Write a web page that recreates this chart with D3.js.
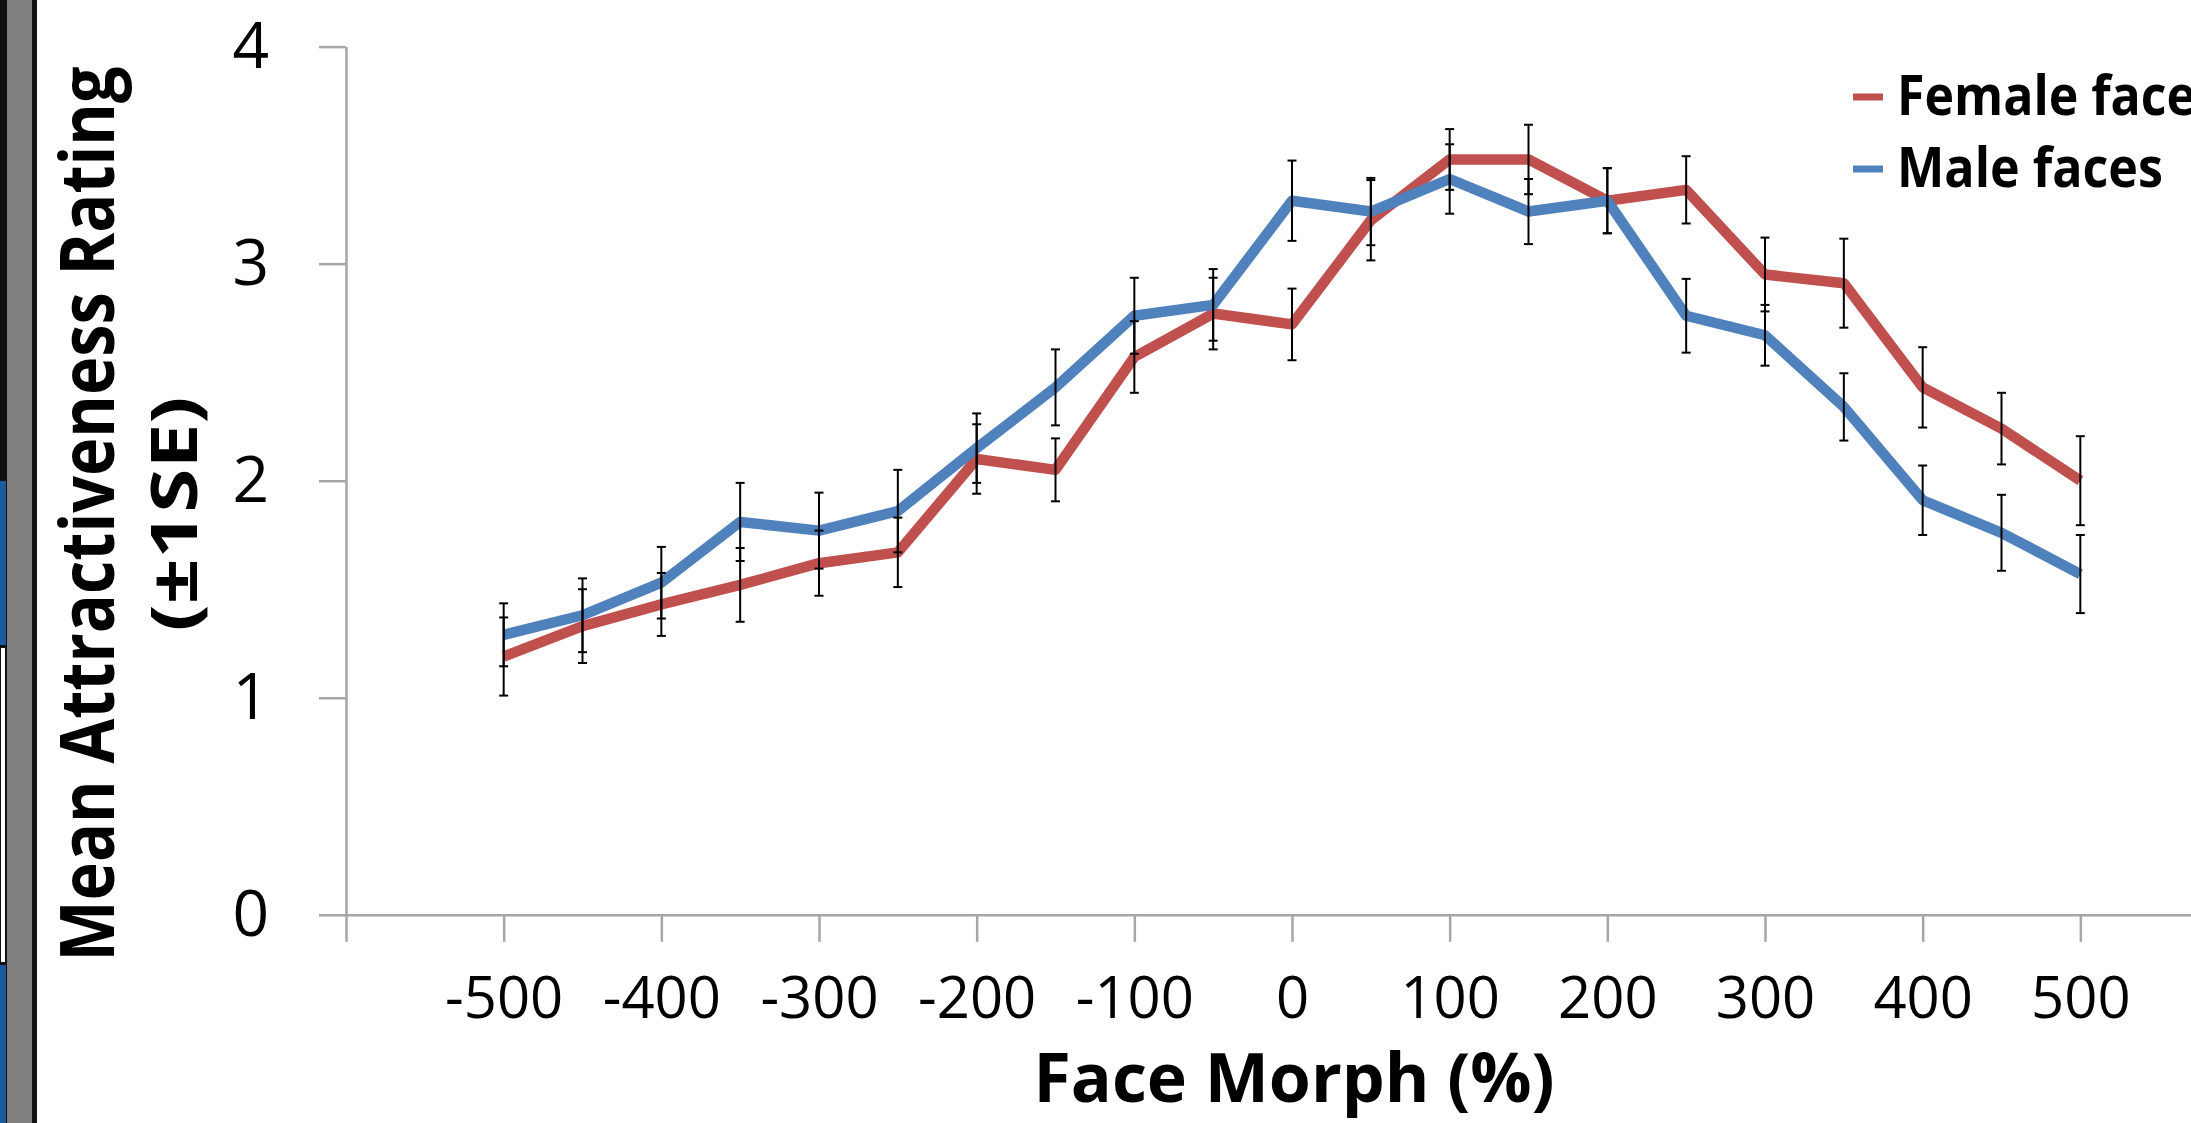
<!DOCTYPE html>
<html>
<head>
<meta charset="utf-8">
<script src="https://cdn.jsdelivr.net/npm/d3@7"></script>
<style>
  body { margin: 0; background: #fff; }
  svg { display: block; }
</style>
</head>
<body>
<div id="main"></div>
<script>
// face morph levels (%)
const morph = [-500, -450, -400, -350, -300, -250, -200, -150, -100, -50, 0,
               50, 100, 150, 200, 250, 300, 350, 400, 450, 500];
const femaleMean = [1.19, 1.33, 1.43, 1.52, 1.62, 1.67, 2.10, 2.05, 2.57, 2.77, 2.72,
                    3.20, 3.48, 3.48, 3.29, 3.34, 2.95, 2.91, 2.43, 2.24, 2.00];
const femaleSE = [0.18, 0.17, 0.145, 0.17, 0.15, 0.16, 0.16, 0.145, 0.165, 0.165, 0.165,
                  0.185, 0.14, 0.16, 0.15, 0.155, 0.17, 0.205, 0.185, 0.165, 0.205];
const maleMean = [1.29, 1.38, 1.53, 1.81, 1.77, 1.86, 2.15, 2.43, 2.76, 2.81, 3.29,
                  3.24, 3.39, 3.24, 3.29, 2.76, 2.67, 2.34, 1.91, 1.76, 1.57];
const maleSE = [0.145, 0.17, 0.165, 0.18, 0.175, 0.19, 0.16, 0.175, 0.175, 0.165, 0.185,
                0.155, 0.16, 0.15, 0.15, 0.17, 0.14, 0.155, 0.16, 0.175, 0.18];
const xTicks = [-600, -500, -400, -300, -200, -100, 0, 100, 200, 300, 400, 500];
const yTicks = [0, 1, 2, 3, 4];
const seriesNames = ["Female faces", "Male faces"];

const ctx = {
    width: 2191,
    height: 1123,
    red: "#c0504d",
    blue: "#4f81bd",
    axisGrey: "#a6a6a6",
    font: "'Open Sans', sans-serif"
};

const series = [
    { name: seriesNames[0], color: ctx.red, labelLength: 324, values: femaleMean.map((m, i) => ({ x: morph[i], y: m, se: femaleSE[i] })) },
    { name: seriesNames[1], color: ctx.blue, labelLength: 266, values: maleMean.map((m, i) => ({ x: morph[i], y: m, se: maleSE[i] })) }
];

let svg = d3.select("#main").append("svg")
    .attr("width", ctx.width)
    .attr("height", ctx.height);

svg.append("rect")
    .attr("width", ctx.width).attr("height", ctx.height)
    .attr("fill", "#fff");

// slide frame strip on the left edge
let frame = svg.append("g");
frame.append("rect").attr("x", 0).attr("y", 0).attr("width", 7).attr("height", ctx.height).attr("fill", "#111");
frame.append("rect").attr("x", 1).attr("y", 648).attr("width", 4).attr("height", 314).attr("fill", "#fff");
frame.append("rect").attr("x", 0).attr("y", 481).attr("width", 6).attr("height", 164).attr("fill", "#1d5c9c");
frame.append("rect").attr("x", 0).attr("y", 965).attr("width", 6).attr("height", 158).attr("fill", "#1d5c9c");
frame.append("rect").attr("x", 7).attr("y", 0).attr("width", 25).attr("height", ctx.height).attr("fill", "#808080");
frame.append("rect").attr("x", 32).attr("y", 0).attr("width", 5).attr("height", ctx.height).attr("fill", "#111");

let x = d3.scaleLinear().domain([-600, 600]).range([346, 2238]);
let y = d3.scaleLinear().domain([0, 4]).range([914.8, 46.6]);

// axes
let xAxis = svg.append("g")
    .attr("transform", "translate(0," + y(0) + ")")
    .call(d3.axisBottom(x).tickValues(xTicks).tickSize(27).tickSizeOuter(0).tickPadding(35)
        .tickFormat(d => d === -600 ? "" : d));
let yAxis = svg.append("g")
    .attr("transform", "translate(" + x(-600) + ",0)")
    .call(d3.axisLeft(y).tickValues(yTicks).tickSize(27).tickSizeOuter(0).tickPadding(50)
        .tickFormat(d3.format("d")));

[xAxis, yAxis].forEach(g => {
    g.select(".domain").attr("stroke", ctx.axisGrey).attr("stroke-width", 2.5);
    g.selectAll(".tick line").attr("stroke", ctx.axisGrey).attr("stroke-width", 2.5);
    g.selectAll(".tick text").attr("fill", "#000").attr("font-family", ctx.font);
});
xAxis.selectAll(".tick text").attr("font-size", 58);
yAxis.selectAll(".tick text").attr("font-size", 64);

// lines
let line = d3.line().x(d => x(d.x)).y(d => y(d.y));
svg.append("g").selectAll("path")
    .data(series)
    .enter()
    .append("path")
    .attr("d", d => line(d.values))
    .attr("fill", "none")
    .attr("stroke", d => d.color)
    .attr("stroke-width", 10.5)
    .attr("stroke-linejoin", "round");

// error bars (+-1 SE)
let capHalf = 4.5;
let bars = svg.append("g").attr("stroke", "#000").attr("stroke-width", 2);
series.forEach(s => {
    let g = bars.append("g");
    g.selectAll("line.bar").data(s.values).enter().append("line")
        .attr("class", "bar")
        .attr("x1", d => x(d.x)).attr("x2", d => x(d.x))
        .attr("y1", d => y(d.y - d.se)).attr("y2", d => y(d.y + d.se));
    g.selectAll("line.capTop").data(s.values).enter().append("line")
        .attr("class", "capTop")
        .attr("x1", d => x(d.x) - capHalf).attr("x2", d => x(d.x) + capHalf)
        .attr("y1", d => y(d.y + d.se)).attr("y2", d => y(d.y + d.se));
    g.selectAll("line.capBottom").data(s.values).enter().append("line")
        .attr("class", "capBottom")
        .attr("x1", d => x(d.x) - capHalf).attr("x2", d => x(d.x) + capHalf)
        .attr("y1", d => y(d.y - d.se)).attr("y2", d => y(d.y - d.se));
});

// axis titles
svg.append("text")
    .attr("x", 1294).attr("y", 1102)
    .attr("text-anchor", "middle")
    .attr("font-family", ctx.font).attr("font-weight", "bold").attr("font-size", 68)
    .text("Face Morph (%)");

let yTitle = svg.append("g").attr("transform", "translate(0,514) rotate(-90)");
yTitle.append("text")
    .attr("x", 0).attr("y", 114)
    .attr("text-anchor", "middle")
    .attr("font-family", ctx.font).attr("font-weight", "bold").attr("font-size", 76)
    .attr("textLength", 895).attr("lengthAdjust", "spacingAndGlyphs")
    .text("Mean Attractiveness Rating");
yTitle.append("text")
    .attr("x", 0).attr("y", 197)
    .attr("text-anchor", "middle")
    .attr("font-family", ctx.font).attr("font-weight", "bold").attr("font-size", 64)
    .attr("textLength", 235).attr("lengthAdjust", "spacingAndGlyphs")
    .text("(±1SE)");

// legend
let legend = svg.append("g").selectAll("g")
    .data(series)
    .enter()
    .append("g")
    .attr("transform", (d, i) => "translate(0," + (i * 72) + ")");
legend.append("line")
    .attr("x1", 1853).attr("x2", 1883)
    .attr("y1", 97).attr("y2", 97)
    .attr("stroke", d => d.color)
    .attr("stroke-width", 7);
legend.append("text")
    .attr("x", 1897).attr("y", 115)
    .attr("font-family", ctx.font).attr("font-weight", "bold").attr("font-size", 55)
    .attr("textLength", d => d.labelLength).attr("lengthAdjust", "spacingAndGlyphs")
    .text(d => d.name);
</script>
</body>
</html>
